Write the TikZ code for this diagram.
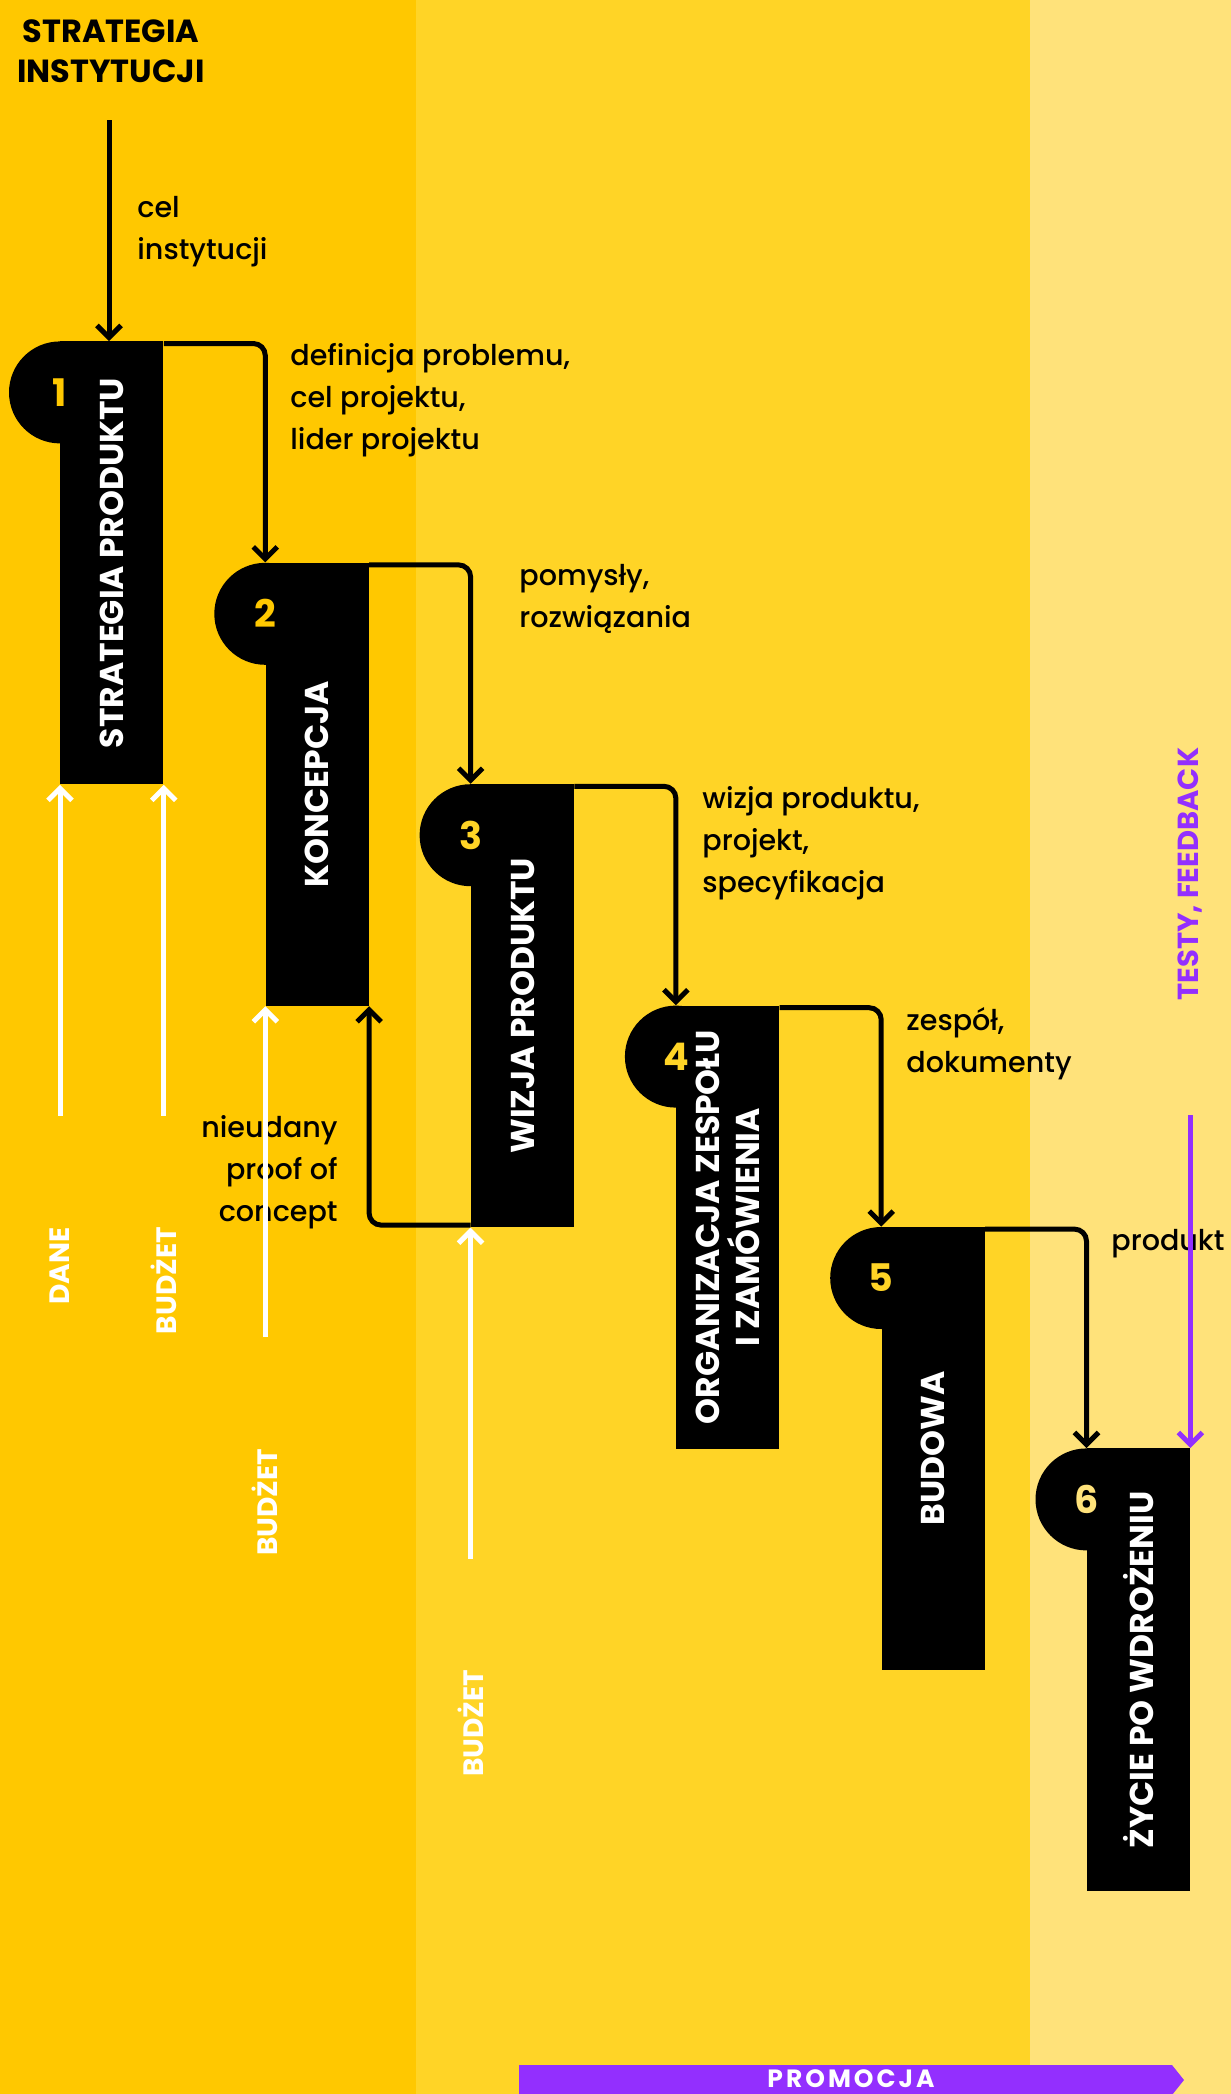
\documentclass[tikz,border=0pt]{standalone}
\usepackage{fontspec}
\setmainfont{Poppins}
\newfontfamily\notefont{Poppins Medium}
\usepackage{tikz}
\usetikzlibrary{positioning,arrows.meta}
\definecolor{bandA}{HTML}{FFC800}
\definecolor{bandB}{HTML}{FFD426}
\definecolor{bandC}{HTML}{FFE27A}
\definecolor{lila}{HTML}{932FFE}
\tikzset{
x=0.5pt, y=-0.5pt,
stepbox/.style={fill=black, minimum width=51.5pt, minimum height=221.5pt, inner sep=0pt},
head/.style={circle, fill=black, minimum size=51pt, inner sep=0pt,
  font=\fontsize{19}{19}\selectfont\bfseries},
steptext/.style={rotate=90, text=white, align=center, inner sep=0pt,
  font=\fontsize{16.5}{20}\selectfont\bfseries},
flow/.style={line width=2.5pt, draw=black, rounded corners=6pt,
  -{Straight Barb[length=6pt,width=12pt]}},
input/.style={line width=2.5pt, draw=white, -{Straight Barb[length=6pt,width=12pt]}},
note/.style={inner sep=0pt, align=left, font=\notefont\fontsize{14.3}{21}\selectfont},
inlabel/.style={rotate=90, inner sep=0pt, text=white, font=\fontsize{14}{14}\selectfont\bfseries},
}
\tikzstyle{testline} = [line width=2.5pt, draw=lila, -{Straight Barb[length=6pt,width=12pt]}]

\begin{document}
\begin{tikzpicture}
\useasboundingbox (0,0) rectangle (1231,2094);
\fill[bandA] (0,0) rectangle (416,2094);
\fill[bandB] (416,0) rectangle (1030,2094);
\fill[bandC] (1030,0) rectangle (1231,2094);

\node[inner sep=0pt, anchor=north, align=center,
  font=\fontsize{16}{20}\selectfont\bfseries] (inst) at (111,19) {STRATEGIA\\INSTYTUCJI};

\node[stepbox, anchor=north west] (s1) at (60,341) {};
\node[stepbox, below right=110.7pt and 50.75pt of s1.north east] (s2) {};
\node[stepbox, below right=110.7pt and 50.75pt of s2.north east] (s3) {};
\node[stepbox, below right=110.7pt and 50.75pt of s3.north east] (s4) {};
\node[stepbox, below right=110.7pt and 50.75pt of s4.north east] (s5) {};
\node[stepbox, below right=110.7pt and 50.75pt of s5.north east] (s6) {};

\node[head, text=bandA, below=0pt of s1.north west] (h1) {1};
\node[head, text=bandA, below=0pt of s2.north west] (h2) {2};
\node[head, text=bandB, below=0pt of s3.north west] (h3) {3};
\node[head, text=bandB, below=0pt of s4.north west] (h4) {4};
\node[head, text=bandB, below=0pt of s5.north west] (h5) {5};
\node[head, text=bandC, below=0pt of s6.north west] (h6) {6};

\node[steptext] (t1) at (s1.center) {STRATEGIA PRODUKTU};
\node[steptext] (t2) at (s2.center) {KONCEPCJA};
\node[steptext] (t3) at (s3.center) {WIZJA PRODUKTU};
\node[steptext] (t4) at (s4.center) {ORGANIZACJA ZESPOŁU\\I ZAMÓWIENIA};
\node[steptext] (t5) at (s5.center) {BUDOWA};
\node[steptext] (t6) at (s6.center) {ŻYCIE PO WDROŻENIU};

\coordinate (goal) at (109,120);
\draw[flow] (goal) -- (goal |- s1.north);
\node[note, anchor=north west] (n0) at (137,196) {cel\\instytucji};

\draw[flow] ([yshift=-1.25pt]s1.north east) -| (h2.north);
\node[note, anchor=north west] (n1) at (290,343) {definicja problemu,\\cel projektu,\\lider projektu};
\draw[flow] ([yshift=-1.25pt]s2.north east) -| (h3.north);
\node[note, anchor=north west] (n2) at (519,564) {pomysły,\\rozwiązania};
\draw[flow] ([yshift=-1.25pt]s3.north east) -| (h4.north);
\node[note, anchor=north west] (n3) at (702,786) {wizja produktu,\\projekt,\\specyfikacja};
\draw[flow] ([yshift=-1.25pt]s4.north east) -| (h5.north);
\node[note, anchor=north west] (n4) at (906,1007) {zespół,\\dokumenty};
\draw[flow] ([yshift=-1.25pt]s5.north east) -| (h6.north);
\node[note, anchor=north west] (n5) at (1111,1229) {produkt};

\draw[flow] ([yshift=1.25pt]s3.south west) -| (s2.south east);
\node[note, align=right, anchor=north east] (n6) at (338,1115) {nieudany\\proof of\\concept};

\coordinate[below=165.5pt of s1.south west] (dane);
\coordinate[below=165.5pt of s1.south east] (bud1);
\coordinate[below=165.5pt of s2.south west] (bud2);
\coordinate[below=165.5pt of s3.south west] (bud3);
\draw[input] (dane) -- (s1.south west);
\draw[input] (bud1) -- (s1.south east);
\draw[input] (bud2) -- (s2.south west);
\draw[input] (bud3) -- (s3.south west);
\node[inlabel, below=55.5pt of dane, anchor=east] (i1) {DANE};
\node[inlabel, below=55.5pt of bud1, anchor=east] (i2) {BUDŻET};
\node[inlabel, below=55.5pt of bud2, anchor=east] (i3) {BUDŻET};
\node[inlabel, below=55.5pt of bud3, anchor=east] (i4) {BUDŻET};

\coordinate[above=166.5pt of s6.north east] (test);
\draw[testline] (test) -- (s6.north east);
\node[rotate=90, inner sep=0pt, text=lila, font=\fontsize{14.5}{14.5}\selectfont\bfseries,
  above=57pt of test, anchor=west] (fb) {TESTY, FEEDBACK};

\fill[lila] (519,2065) -- (1172,2065) -- (1184,2080) -- (1172,2095) -- (519,2095) -- cycle;
\node[text=white, inner sep=0pt,
  font=\fontsize{12.5}{12.5}\selectfont\bfseries\addfontfeature{LetterSpace=12}] (promo) at (851,2079) {PROMOCJA};
\end{tikzpicture}
\end{document}
